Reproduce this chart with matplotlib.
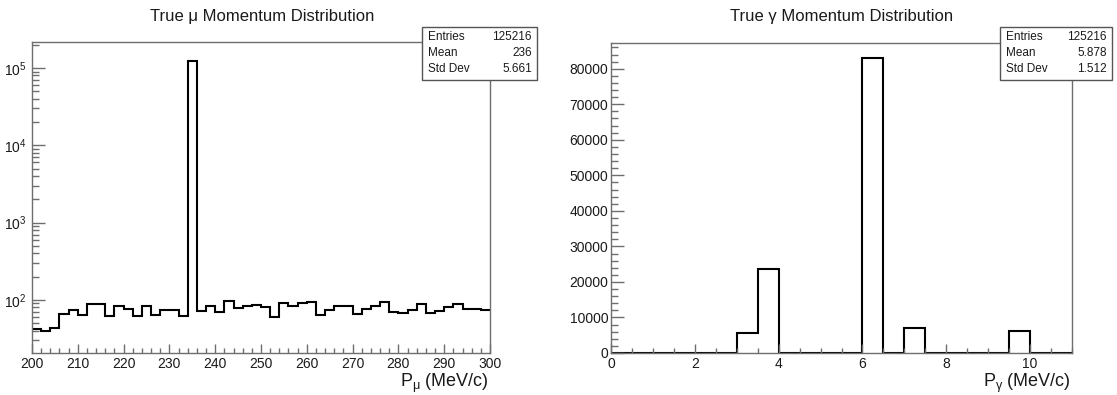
import numpy as np
import matplotlib
matplotlib.use("Agg")
import matplotlib.pyplot as plt
from matplotlib.patches import Rectangle
from matplotlib.ticker import MultipleLocator, LogLocator, NullFormatter, FuncFormatter

plt.rcParams["font.family"] = ["Liberation Sans", "DejaVu Sans"]
plt.rcParams["mathtext.fontset"] = "custom"
plt.rcParams["mathtext.rm"] = "Liberation Sans"
plt.rcParams["mathtext.it"] = "Liberation Sans:italic"

# muon momentum, 2 MeV/c bins over 200-300
mu_edges = np.linspace(200, 300, 51)
mu_counts = [42, 39, 43, 66, 74, 63, 88, 87, 62, 82,
             76, 62, 82, 64, 74, 73, 62, 121563, 72, 82,
             70, 96, 79, 82, 85, 81, 60, 90, 83, 90,
             93, 64, 73, 82, 84, 66, 76, 82, 94, 70,
             68, 74, 87, 67, 71, 80, 87, 77, 76, 73]
mu_mean = "236"
mu_std = "5.661"

# photon momentum, 0.5 MeV/c bins over 0-11
gamma_edges = np.linspace(0, 11, 23)
gamma_counts = [0, 0, 0, 0, 0, 0, 5520, 23500, 0, 0, 0,
                0, 83086, 0, 7020, 0, 0, 0, 0, 6090, 0, 0]
gamma_mean = "5.878"
gamma_std = "1.512"

W, H = 1117, 395
FRAME = "#6e6e6e"


def fx(px):
    return px / W


def fy(py):
    return 1 - py / H


def style_frame(ax):
    for s in ax.spines.values():
        s.set_color(FRAME)
        s.set_linewidth(1.0)
    ax.tick_params(which="both", direction="in", top=False, right=False,
                   color=FRAME, labelcolor="#1a1a1a", labelsize=10, width=1)
    ax.tick_params(axis="x", which="major", length=6.5, pad=3)
    ax.tick_params(axis="x", which="minor", length=3.6)


def stats_box(fig, x0, x1, y0, rows):
    row_h = 16.5
    y1 = y0 + row_h * len(rows) + 3
    fig.add_artist(Rectangle((fx(x0), fy(y1)), fx(x1) - fx(x0), fy(y0) - fy(y1),
                             transform=fig.transFigure, fc="white", ec="#555555",
                             lw=1.0, zorder=10))
    for i, (name, val) in enumerate(rows):
        yy = fy(y0 + 9.5 + i * row_h)
        fig.text(fx(x0 + 6), yy, name, ha="left", va="center", fontsize=8.5,
                 color="#1a1a1a", zorder=11)
        fig.text(fx(x1 - 5), yy, val, ha="right", va="center", fontsize=8.5,
                 color="#1a1a1a", zorder=11)


fig = plt.figure(figsize=(W / 100, H / 100), dpi=100)

# left: muon momentum on a log scale
ax1 = fig.add_axes([fx(32), fy(353), fx(490) - fx(32), fy(42) - fy(353)])
ax1.stairs(mu_counts, mu_edges, baseline=None, color="black", lw=1.5)
ax1.set_yscale("log")
ax1.set_xlim(200, 300)
ax1.set_ylim(20.5, 2.17e5)
ax1.xaxis.set_major_locator(MultipleLocator(10))
ax1.xaxis.set_minor_locator(MultipleLocator(2))
ax1.yaxis.set_major_locator(LogLocator(base=10, numticks=10))
ax1.yaxis.set_minor_locator(LogLocator(base=10, subs=np.arange(2, 10), numticks=20))
ax1.yaxis.set_minor_formatter(NullFormatter())
ax1.yaxis.set_major_formatter(
    FuncFormatter(lambda v, pos: r"$\mathregular{10^{%d}}$" % round(np.log10(v))))
style_frame(ax1)
ax1.tick_params(axis="y", which="major", length=9.5, pad=4)
ax1.tick_params(axis="y", which="minor", length=5)

# right: photon momentum, linear scale
ax2 = fig.add_axes([fx(611), fy(353), fx(1072) - fx(611), fy(43) - fy(353)])
ax2.stairs(gamma_counts, gamma_edges, color="black", lw=1.5)
ax2.set_xlim(0, 11)
ax2.set_ylim(0, 1.05 * max(gamma_counts))
ax2.xaxis.set_major_locator(MultipleLocator(2))
ax2.xaxis.set_minor_locator(MultipleLocator(0.5))
ax2.yaxis.set_major_locator(MultipleLocator(10000))
ax2.yaxis.set_minor_locator(MultipleLocator(2000))
ax2.yaxis.set_major_formatter(FuncFormatter(lambda v, pos: "%d" % v))
style_frame(ax2)
ax2.tick_params(axis="y", which="major", length=9.5, pad=2)
ax2.tick_params(axis="y", which="minor", length=5)

# titles and axis labels
fig.text(fx(262), fy(16), "True μ Momentum Distribution", ha="center", va="center",
         fontsize=12, color="#1a1a1a")
fig.text(fx(842), fy(16), "True γ Momentum Distribution", ha="center", va="center",
         fontsize=12, color="#1a1a1a")
fig.text(fx(489), fy(387), r"$\mathregular{P_{μ}}$ (MeV/c)", ha="right",
         va="baseline", fontsize=13, color="#1a1a1a")
fig.text(fx(1071), fy(387), r"$\mathregular{P_{γ}}$ (MeV/c)", ha="right",
         va="baseline", fontsize=13, color="#1a1a1a")

stats_box(fig, 422, 537, 27, [("Entries", str(int(sum(mu_counts)))),
                              ("Mean", mu_mean), ("Std Dev", mu_std)])
stats_box(fig, 1000, 1112, 27, [("Entries", str(int(sum(gamma_counts)))),
                                ("Mean", gamma_mean), ("Std Dev", gamma_std)])

fig.savefig("out.png", dpi=100)
